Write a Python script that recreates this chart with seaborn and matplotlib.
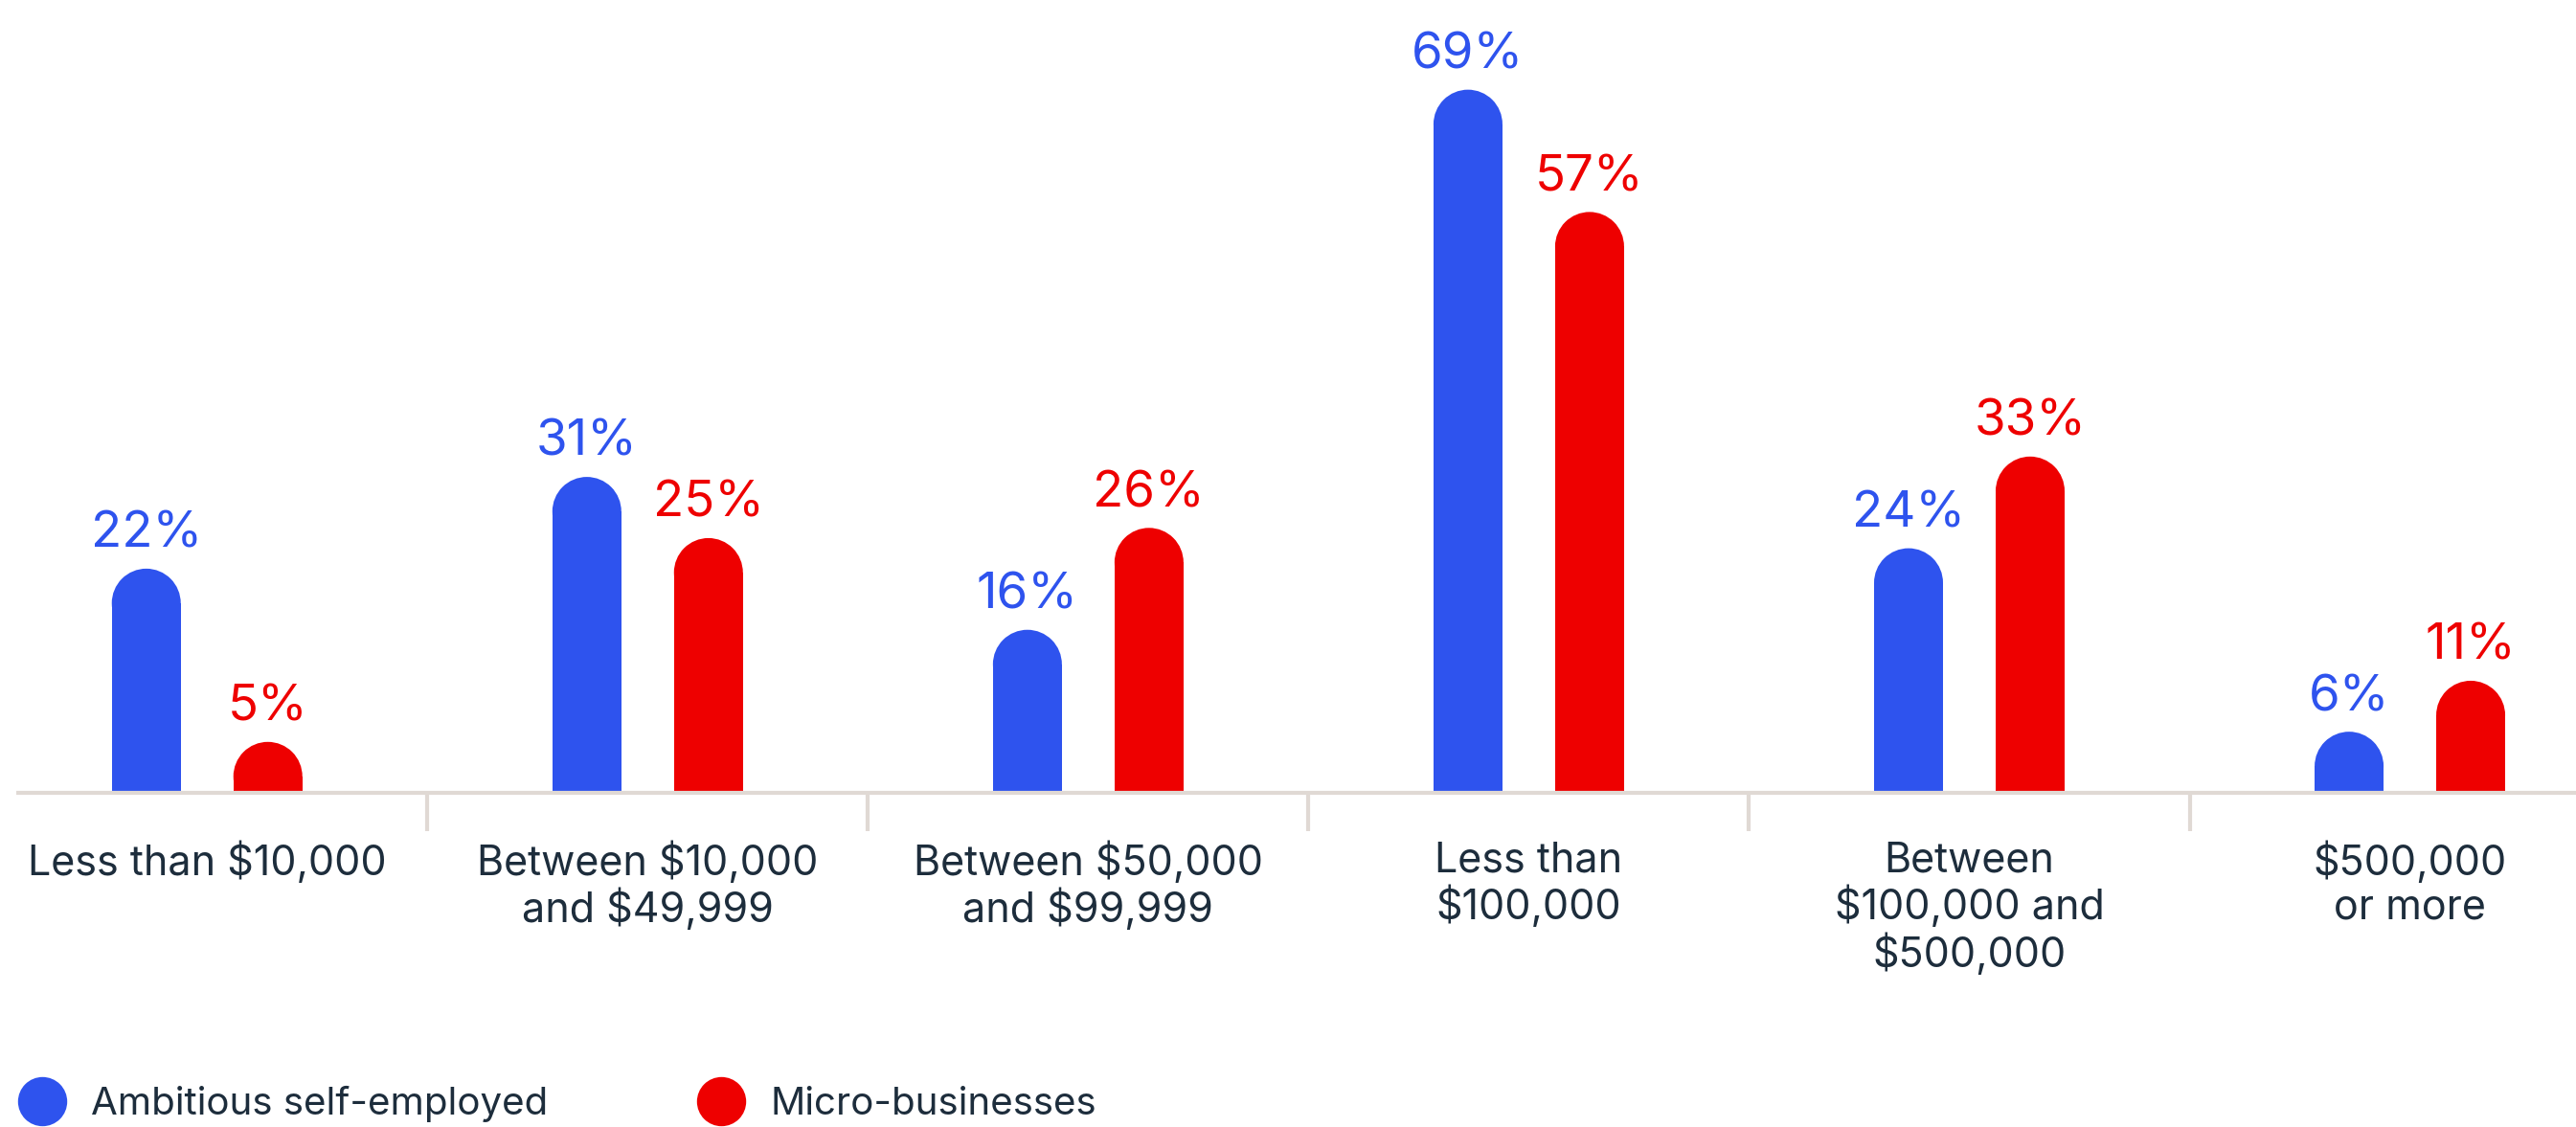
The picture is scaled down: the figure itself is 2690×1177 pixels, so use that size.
import matplotlib
matplotlib.use("Agg")
import matplotlib.pyplot as plt
import seaborn as sns
import pandas as pd
from matplotlib.patches import Ellipse
from matplotlib.lines import Line2D

# Revenue bands and the share of each group in them
categories = [
    "Less than $10,000",
    "Between $10,000\nand $49,999",
    "Between $50,000\nand $99,999",
    "Less than\n$100,000",
    "Between\n$100,000 and\n$500,000",
    "$500,000\nor more",
]
series = ["Ambitious self-employed", "Micro-businesses"]
ambitious = [22, 31, 16, 69, 24, 6]
micro = [5, 25, 26, 57, 33, 11]

BLUE = "#2E53EE"
RED = "#EE0000"
INK = "#1D2D3C"
RULE = "#E0D9D4"

df = pd.DataFrame({
    "category": categories * 2,
    "group": [series[0]] * len(categories) + [series[1]] * len(categories),
    "value": ambitious + micro,
})

sns.set_theme(style="white")
plt.rcParams["font.family"] = ["Inter", "DejaVu Sans"]

fig = plt.figure(figsize=(26.9, 11.77), dpi=100)
ax = fig.add_axes([0, 0.2965, 1, 0.7035])

sns.barplot(
    data=df, x="category", y="value", hue="group",
    order=categories, hue_order=series, palette=[BLUE, RED],
    width=0.552, gap=0.433, saturation=1, errorbar=None,
    legend=False, ax=ax, linewidth=0, zorder=2,
)

ax.set_xlim(-0.47, 5.377)
ax.set_ylim(0, 77.8)

# value labels above each bar
for cont, vals, col in zip(ax.containers, [ambitious, micro], [BLUE, RED]):
    ax.bar_label(cont, labels=[f"{v}%" for v in vals], padding=8,
                 fontsize=38, color=col, fontweight="normal")

# round the top of every bar with a half-ellipse that looks circular on screen
fig.canvas.draw()
p0 = ax.transData.transform((0, 0))
p1 = ax.transData.transform((1, 1))
px_x = p1[0] - p0[0]
px_y = p1[1] - p0[1]
for cont in ax.containers:
    for bar in cont:
        x, w, h = bar.get_x(), bar.get_width(), bar.get_height()
        ry = (w * px_x / 2) / px_y
        bar.set_height(h - ry)
        ax.add_patch(Ellipse((x + w / 2, h - ry), w, 2 * ry,
                             facecolor=bar.get_facecolor(), linewidth=0, zorder=2))

# baseline and group separators
ax.plot([-0.433, 5.5], [0, 0], color=RULE, lw=3, clip_on=False, zorder=3,
        solid_capstyle="butt")
for k in range(len(categories) - 1):
    ax.plot([k + 0.5, k + 0.5], [0, -3.8], color=RULE, lw=3, clip_on=False,
            zorder=3, solid_capstyle="butt")

ax.set_xticks(range(len(categories)))
ax.set_xticklabels(categories, fontsize=31, color=INK, linespacing=1.15)
ax.tick_params(axis="x", length=0, pad=36)
ax.set_yticks([])
ax.set_xlabel("")
ax.set_ylabel("")
for s in ax.spines.values():
    s.set_visible(False)

handles = [Line2D([0], [0], marker="o", ls="", markersize=37,
                  markerfacecolor=c, markeredgewidth=0) for c in (BLUE, RED)]
fig.legend(handles, series, loc="lower left", bbox_to_anchor=(0.007, 0.004),
           frameon=False, ncol=2, fontsize=29, handlelength=1.25,
           handletextpad=0.65, columnspacing=3.85, borderpad=0, borderaxespad=0,
           labelcolor=INK)

fig.savefig("out.png", dpi=100)
